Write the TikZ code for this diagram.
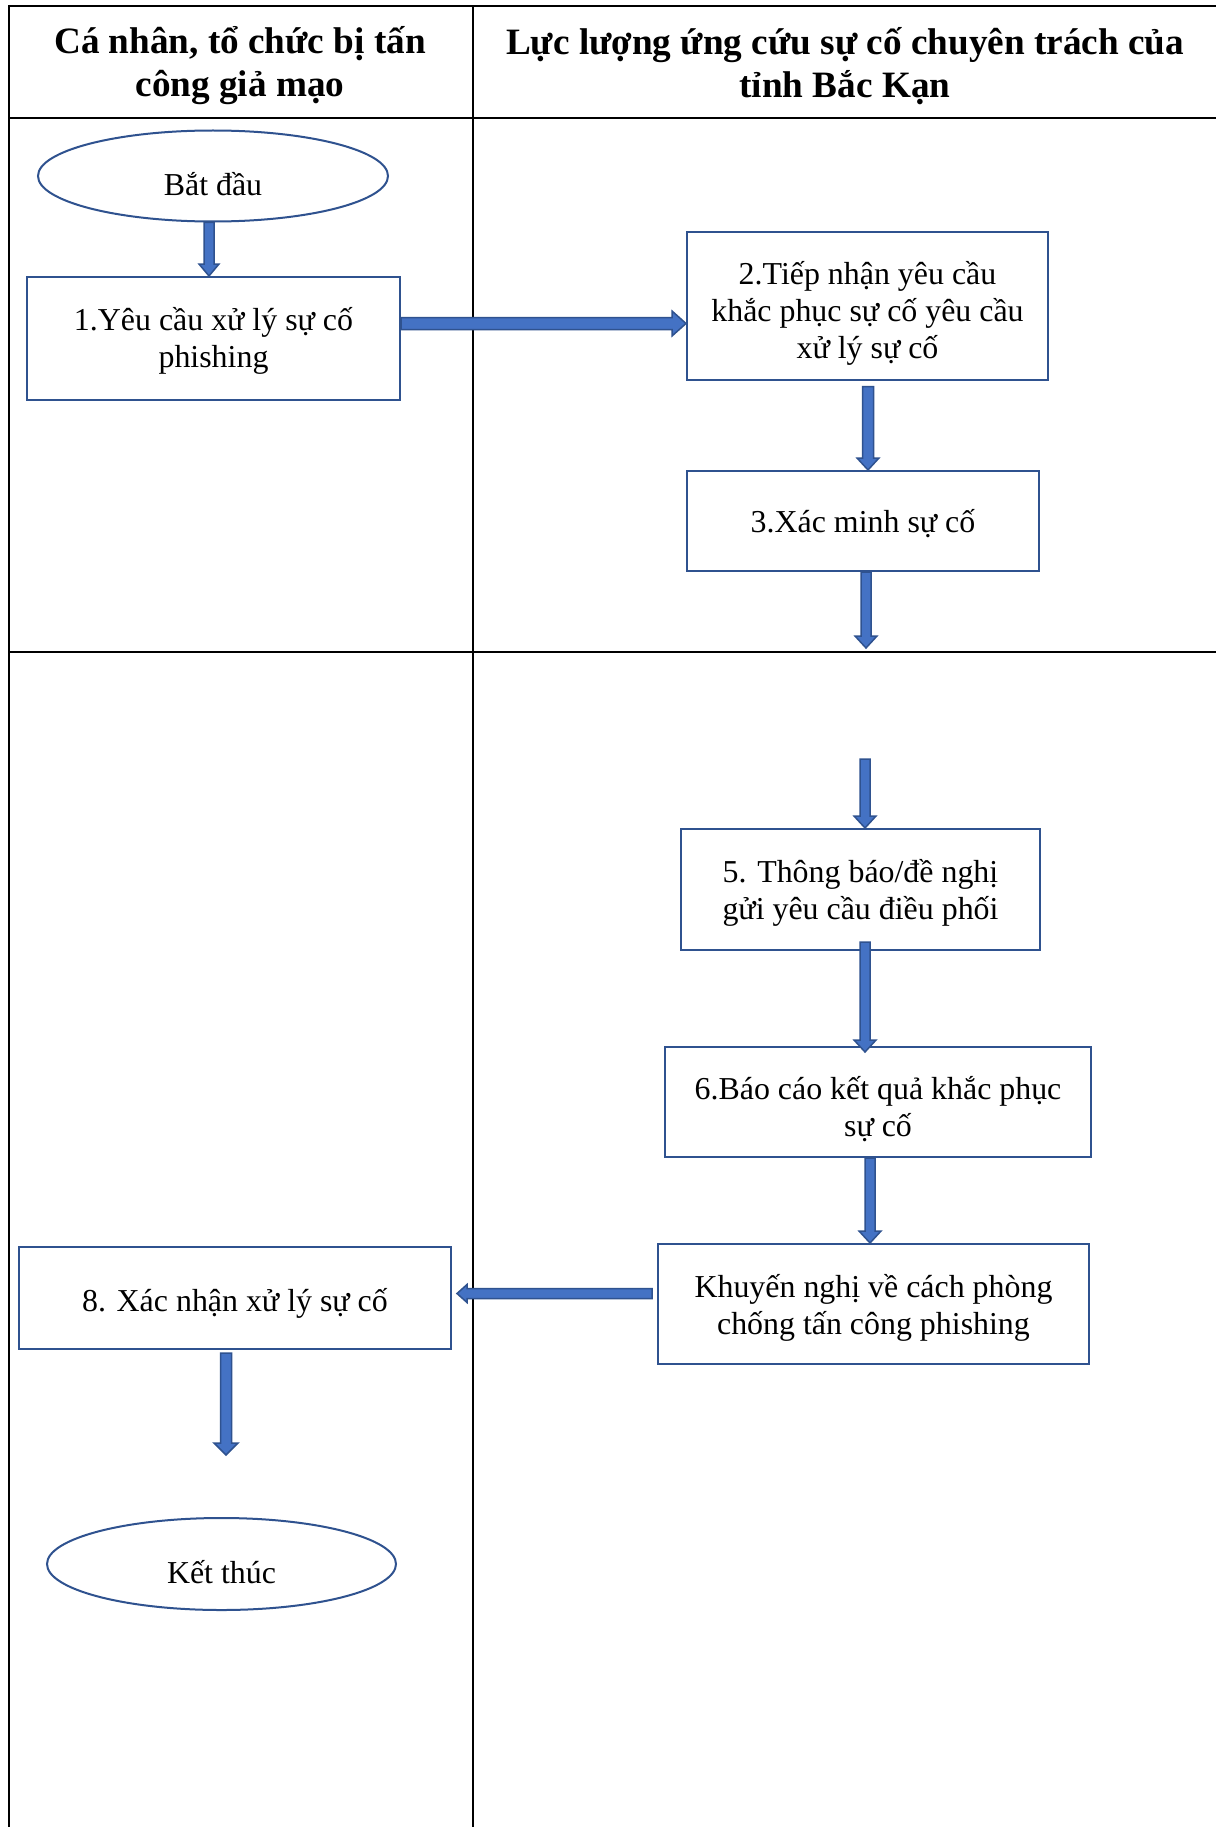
\documentclass[tikz,border=0pt]{standalone}
\usepackage{fontspec}
\setmainfont{Liberation Serif}
\usetikzlibrary{calc,shapes.geometric}
\definecolor{arrowblue}{HTML}{4472C4}
\definecolor{arrowedge}{HTML}{2F528F}
\definecolor{boxedge}{HTML}{2F528F}
\newcommand\bodyfnt{\fontsize{31.9pt}{37pt}\selectfont}
\newcommand\headfnt{\bfseries\fontsize{37.2pt}{43pt}\selectfont}
% #1 start, #2 tip, #3 shaft half width, #4 head half width, #5 head length
\newcommand\ArrDown[5]{%
  \filldraw[barrow] let \p1=(#1), \p2=(#2) in
  (\x1-#3,\y1) -- (\x1-#3,\y2+#5) -- (\x1-#4,\y2+#5) -- (\x1,\y2) --
  (\x1+#4,\y2+#5) -- (\x1+#3,\y2+#5) -- (\x1+#3,\y1) -- cycle;}
\newcommand\ArrRight[5]{%
  \filldraw[barrow] let \p1=(#1), \p2=(#2) in
  (\x1,\y1-#3) -- (\x2-#5,\y1-#3) -- (\x2-#5,\y1-#4) -- (\x2,\y1) --
  (\x2-#5,\y1+#4) -- (\x2-#5,\y1+#3) -- (\x1,\y1+#3) -- cycle;}
\newcommand\ArrLeft[5]{%
  \filldraw[barrow] let \p1=(#1), \p2=(#2) in
  (\x1,\y1-#3) -- (\x2+#5,\y1-#3) -- (\x2+#5,\y1-#4) -- (\x2,\y1) --
  (\x2+#5,\y1+#4) -- (\x2+#5,\y1+#3) -- (\x1,\y1+#3) -- cycle;}
\begin{document}
\begin{tikzpicture}[x=1pt,y=-1pt,
  box/.style={draw=boxedge,line width=2pt,rectangle,inner sep=0pt},
  term/.style={draw=boxedge,line width=2pt,ellipse,inner sep=0pt},
  txt/.style={align=center,font=\bodyfnt,inner sep=0pt},
  hdr/.style={align=center,font=\headfnt,inner sep=0pt},
  grid/.style={line width=2pt,black},
  barrow/.style={fill=arrowblue,draw=arrowedge,line width=1.5pt,line join=miter}]
\useasboundingbox[fill=white] (0,0) rectangle (1216,1827);

% table
\draw[grid] (9,6) -- (1216,6);
\draw[grid] (9,5) -- (9,1827);
\draw[grid] (473,6) -- (473,1827);
\draw[grid,line width=2.5pt] (9,118) -- (1216,118);
\draw[grid] (9,652) -- (1216,652);

% headers
\node[hdr] (hL) at (240,66) {Cá nhân, tổ chức bị tấn\\công giả mạo};
\node[hdr] (hR) at (845,66) {Lực lượng ứng cứu sự cố chuyên trách của\\tỉnh Bắc Kạn};

% nodes
\node[term,minimum width=350pt,minimum height=91pt,
  label={[txt,yshift=-8pt]center:{Bắt đầu}}] (start) at (213,176) {};
\node[box,minimum width=373pt,minimum height=123pt,
  label={[txt,yshift=-2pt]center:{1.Yêu cầu xử lý sự cố\\phishing}}] (box1) at (213.5,338.5) {};
\node[box,minimum width=361pt,minimum height=147pt,
  label={[txt,yshift=-7pt]center:{2.Tiếp nhận yêu cầu\\khắc phục sự cố yêu cầu\\xử lý sự cố}}] (box2) at (867.5,306) {};
\node[box,minimum width=352pt,minimum height=100pt,
  label={[txt,yshift=-3pt]center:{3.Xác minh sự cố}}] (box3) at (863,521) {};
\node[box,minimum width=359pt,minimum height=121pt,
  label={[txt,yshift=-3pt]center:{5. Thông báo/đề nghị\\gửi yêu cầu điều phối}}] (box5) at (860.5,889.5) {};
\node[box,minimum width=426pt,minimum height=110pt,
  label={[txt,yshift=-7pt]center:{6.Báo cáo kết quả khắc phục\\sự cố}}] (box6) at (878,1102) {};
\node[box,minimum width=431pt,minimum height=120pt,
  label={[txt,yshift=-4pt]center:{Khuyến nghị về cách phòng\\chống tấn công phishing}}] (box7) at (873.5,1304) {};
\node[box,minimum width=432pt,minimum height=102pt,
  label={[txt,yshift=-5pt]center:{8. Xác nhận xử lý sự cố}}] (box8) at (235,1298) {};
\node[term,minimum width=349pt,minimum height=92pt,
  label={[txt,yshift=-8pt]center:{Kết thúc}}] (end) at (221.5,1564) {};

\coordinate (c4) at (866,648);
\coordinate (c5) at (865,759);
\coordinate (c9) at (226,1455);

% arrows
\ArrDown{$(start.south)+(-4,0)$}{$(box1.north)+(-4,0)$}{5pt}{10pt}{12pt}
\ArrRight{$(box1.east)+(0,-15)$}{box2.west}{6pt}{12.5pt}{14pt}
\ArrDown{$(box2.south)+(0.5,6)$}{box3.north}{5.5pt}{11pt}{12pt}
\ArrDown{$(box3.south)+(3,0)$}{c4}{5pt}{11pt}{12pt}
\ArrDown{c5}{box5.north}{5pt}{11pt}{12pt}
\ArrDown{$(box5.south)+(4.5,-9)$}{$(box6.north)+(0,6)$}{5pt}{11pt}{12pt}
\ArrDown{$(box6.south)+(-8,0)$}{box7.north}{5pt}{11pt}{12pt}
\ArrLeft{$(box7.west)+(-5,-10.5)$}{$(box8.east)+(5,0)$}{5pt}{9pt}{10pt}
\ArrDown{$(box8.south)+(-9,3)$}{c9}{5.5pt}{12pt}{12pt}
\end{tikzpicture}
\end{document}
